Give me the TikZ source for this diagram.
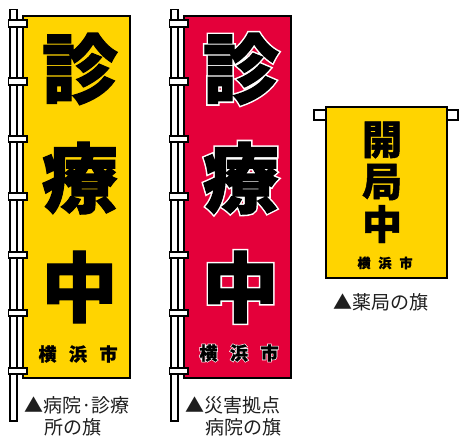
\documentclass[tikz,border=0pt]{standalone}
\usepackage{fontspec}
\newfontfamily\jp{Noto Sans CJK JP}
\usetikzlibrary{calc}
\definecolor{flagyellow}{HTML}{FFD400}
\definecolor{flagred}{HTML}{E4003A}
\definecolor{captext}{HTML}{1E1E1E}
\tikzset{
  polebar/.style={draw=black,fill=white,line width=1.8pt},
  ringbox/.style={draw=black,fill=white,line width=1.8pt},
  flagbox/.style={draw=black,line width=2pt},
  bigchar/.style={font=\jp\bfseries\fontsize{76}{76}\selectfont\addfontfeature{FakeBold=1.5},inner sep=0pt},
  bighalo/.style={font=\jp\bfseries\fontsize{76}{76}\selectfont\addfontfeature{FakeBold=5.5},inner sep=0pt,text=white},
  midchar/.style={font=\jp\bfseries\fontsize{40}{40}\selectfont\addfontfeature{FakeBold=1.2},inner sep=0pt},
  citychar/.style={font=\jp\bfseries\fontsize{18}{18}\selectfont\addfontfeature{FakeBold=1.3},inner sep=0pt},
  cityhalo/.style={font=\jp\bfseries\fontsize{18}{18}\selectfont\addfontfeature{FakeBold=9},inner sep=0pt,text=white},
  smallcity/.style={font=\jp\bfseries\fontsize{13}{13}\selectfont\addfontfeature{FakeBold=1.3},inner sep=0pt},
  caption/.style={font=\jp\fontsize{19}{21}\selectfont,text=captext,inner sep=0pt,anchor=west},
}
% white glyph whose fake-bold stroke is white too
\newcommand\whalo[1]{\special{pdf:literal direct 1 1 1 RG}#1\special{pdf:literal direct 0 0 0 RG}}
\begin{document}
\begin{tikzpicture}[x=1pt,y=-1pt]
\useasboundingbox (0,0) rectangle (460,437);
% ---------- left flag (yellow) ----------
\draw[polebar] (10,9.5) rectangle (17,421);
\draw[flagbox,fill=flagyellow] (23,16) rectangle (130,378);
\foreach \yy in {23.5,81.5,139,196.5,255,313,371}{
  \draw[ringbox] (8.5,\yy-3.3) rectangle (27,\yy+3.3);}
\node[bigchar] (a1) at (80,69) {診};
\node[bigchar] (a2) at (80,178) {療};
\node[bigchar] (a3) at (79.5,287) {中};
\node[citychar] (a4) at (47.5,354) {横};
\node[citychar] (a5) at (78,354) {浜};
\node[citychar] (a6) at (108.5,354) {市};
\node[caption] (capa1) at (24,405) {▲病院·診療};
\node[caption] (capa2) at (44,427) {所の旗};
% ---------- middle flag (red) ----------
\draw[polebar] (171,9.5) rectangle (178,421);
\draw[flagbox,fill=flagred] (184,16) rectangle (291,378);
\foreach \yy in {23.5,81.5,139,196.5,255,313,371}{
  \draw[ringbox] (169.5,\yy-3.3) rectangle (188,\yy+3.3);}
\node[bighalo] (b1w) at (241,69) {\whalo{診}};
\node[bigchar] (b1) at (241,69) {診};
\node[bighalo] (b2w) at (241,178) {\whalo{療}};
\node[bigchar] (b2) at (241,178) {療};
\node[bighalo] (b3w) at (240.5,287) {\whalo{中}};
\node[bigchar] (b3) at (240.5,287) {中};
\node[cityhalo] (b4w) at (208.5,353) {\whalo{横}};
\node[citychar] (b4) at (208.5,353) {横};
\node[cityhalo] (b5w) at (239,353) {\whalo{浜}};
\node[citychar] (b5) at (239,353) {浜};
\node[cityhalo] (b6w) at (269.5,353) {\whalo{市}};
\node[citychar] (b6) at (269.5,353) {市};
\node[caption] (capb1) at (185,405) {▲災害拠点};
\node[caption] (capb2) at (205,427) {病院の旗};
% ---------- right flag (yellow, hanging) ----------
\draw[ringbox] (314,110) rectangle (458,120);
\draw[flagbox,fill=flagyellow] (326,107) rectangle (447,278);
\node[midchar] (c1) at (382,140) {開};
\node[midchar] (c2) at (382,182) {局};
\node[midchar] (c3) at (382,224) {中};
\node[smallcity] (c4) at (364,263) {横};
\node[smallcity] (c5) at (385,263) {浜};
\node[smallcity] (c6) at (406,263) {市};
\node[caption] (capc1) at (333,302) {▲薬局の旗};
\end{tikzpicture}
\end{document}
